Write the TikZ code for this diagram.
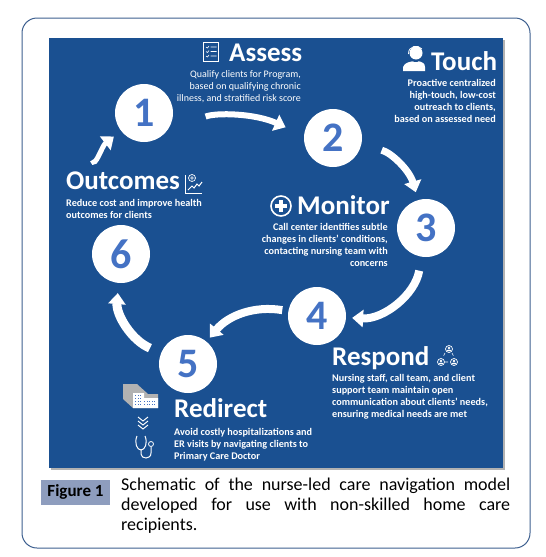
\documentclass[tikz,border=0pt]{standalone}
\usepackage{fontspec}
\setmainfont{Carlito}
\usetikzlibrary{arrows.meta}
\definecolor{panelblue}{HTML}{1A5091}
\definecolor{numblue}{HTML}{4472C4}
\definecolor{frameblue}{HTML}{3D5F8F}
\definecolor{figbox}{HTML}{8E9DBE}
\tikzset{
  numcircle/.style={circle,fill=white,minimum size=58pt,inner sep=0pt,text=numblue,font=\fontsize{42}{42}\selectfont\bfseries},
  flow/.style={draw=white,line width=#1,-{Triangle[width=17pt,length=11pt]}},
  heading/.style={anchor=base west,inner sep=0pt,text=white,font=\fontsize{27}{27}\selectfont\bfseries},
  bodytext/.style={inner sep=0pt,text=white,font=\fontsize{10.2}{12.1}\selectfont\bfseries},
  icon/.style={draw=white,line width=0.8pt},
}
\begin{document}
\begin{tikzpicture}[x=1pt,y=-1pt]
\useasboundingbox (0,0) rectangle (546,557);
\node[draw=frameblue,line width=1pt,rounded corners=15pt,minimum width=508pt,minimum height=530pt,inner sep=0pt](frame) at (276,283) {};
\fill[black!30] (50.5,39.5) rectangle (504.5,469.5);
\node[fill=panelblue,minimum width=454pt,minimum height=430pt,inner sep=0pt](panel) at (276,253) {};

\node[numcircle](n1) at (144,113) {1};
\node[numcircle](n2) at (333,138) {2};
\node[numcircle](n3) at (426,228) {3};
\node[numcircle](n4) at (317,316) {4};
\node[numcircle](n5) at (188,364) {5};
\node[numcircle](n6) at (121,254) {6};

\draw[flow=6pt,shorten <=43pt,shorten >=20pt] (n1.-42) to[bend left=23] (n2.175);
\draw[flow=7pt,shorten <=21pt,shorten >=8pt] (n2) to[bend left=30] (n3);
\draw[flow=8pt,shorten <=14pt,shorten >=6pt] (n3) to[bend left=42] (n4);
\draw[flow=8pt,shorten <=6pt,shorten >=5pt] (n4) to[bend right=30] (n5);
\draw[flow=9pt,shorten <=12pt,shorten >=10pt] (n5) to[bend left=36] (n6);
\draw[flow=5pt,shorten <=69pt,shorten >=9pt,out looseness=1.6,in looseness=0.65] (n6) to[out=107,in=218] (n1);

\node[heading](assess) at (229,61) {Assess};
\node[heading](touch) at (431,70) {Touch};
\node[heading](monitor) at (297,214) {Monitor};
\node[heading](outcomes) at (66,189) {Outcomes};
\node[heading](respond) at (332,365) {Respond};
\node[heading](redirect) at (174,417) {Redirect};

\node[bodytext,anchor=north east,align=right,font=\fontsize{10}{12}\selectfont](assessbody) at (301,70) {Qualify clients for Program,\\based on qualifying chronic\\illness, and stratified risk score};
\node[bodytext,anchor=north east,align=right](touchbody) at (496,79) {Proactive centralized\\high-touch, low-cost\\outreach to clients,\\based on assessed need};
\node[bodytext,anchor=north east,align=right](monitorbody) at (388,223) {Call center identifies subtle\\changes in clients’ conditions,\\contacting nursing team with\\concerns};
\node[bodytext,anchor=north west,align=left](outcomesbody) at (66,199) {Reduce cost and improve health\\outcomes for clients};
\node[bodytext,anchor=north west,align=left](respondbody) at (332,374) {Nursing staff, call team, and client\\support team maintain open\\communication about clients’ needs,\\ensuring medical needs are met};
\node[bodytext,anchor=north west,align=left](redirectbody) at (174,428) {Avoid costly hospitalizations and\\ER visits by navigating clients to\\Primary Care Doctor};

% checklist
\draw[icon] (203.5,42.5) rectangle (218.5,61.5);
\foreach \y in {47,51.5,56}
  \draw[white,line width=0.6pt] (206,\y) -- (207.5,\y+1) -- (209,\y-1) (210.5,\y) -- (216.5,\y);
% headset
\fill[white] (416,53) circle (6.5pt);
\fill[white] (403,71) -- (403,67) .. controls (405,62) and (410,62) .. (414,61) -- (418,61) .. controls (422,62) and (425,63) .. (425,67) -- (425,71) -- cycle;
\draw[panelblue,line width=0.8pt] (408,55) arc (190:340:8pt);
\draw[white,line width=0.8pt] (408.5,54) .. controls (408,46) and (418,44) .. (422,49);
% plus
\draw[white,line width=1.6pt] (281,206) circle (10pt);
\draw[white,line width=3.2pt] (275,206) -- (287,206) (281,200) -- (281,212);
% chart
\draw[icon] (185,175) -- (185,193) -- (202,193);
\draw[white,line width=1pt] (188,190) -- (192,186) -- (194,188) -- (197,184) -- (199,186) -- (202,182);
\draw[white,line width=0.7pt] (192,178) circle (3.5pt) (190,178) -- (194,178) (192,176) -- (192,180);
% team
\foreach \cx/\cy in {449/349,441/362,454/362}{
  \draw[white,line width=0.7pt] (\cx,\cy) circle (3.5pt);
  \fill[white] (\cx,\cy-1) circle (1.3pt) (\cx-2.2,\cy+2) rectangle (\cx+2.2,\cy+0.8);
}
\draw[white,line width=0.6pt,dashed] (445,353) -- (443,357) (452,353) -- (454,357) (445,362) -- (450,362);
% building
\fill[black!30] (123,384) -- (137,384) -- (148,394) -- (158,394) -- (158,408) -- (133,408) -- (123,399) -- cycle;
\fill[white] (133,393) -- (144,393) -- (144,398) -- (158,398) -- (158,408) -- (133,408) -- cycle;
\foreach \bx in {135,137.5,140}
  \foreach \by in {395,398,401,404}
    \fill[numblue] (\bx,\by) rectangle +(1.3,1.3);
\foreach \bx in {144,146.5,149,151.5,154}
  \foreach \by in {401,404}
    \fill[numblue] (\bx,\by) rectangle +(1.3,1.3);
% chevrons
\foreach \y in {417,421,425}
  \draw[white,line width=1pt] (138,\y) -- (143,\y+4) -- (148,\y);
% stethoscope
\draw[white,line width=1pt] (137,436) .. controls (134,443) and (137,450) .. (141,450) .. controls (145,450) and (148,443) .. (145,436);
\draw[white,line width=1pt] (141,450) -- (141,454) .. controls (141,459) and (151,460) .. (151,453) -- (151,447);
\draw[white,line width=0.8pt] (151,444) circle (2.5pt);

\node[fill=figbox,minimum width=69pt,minimum height=25pt,inner sep=0pt,font=\fontsize{17}{17}\selectfont\bfseries,text=black](figlabel) at (75.5,492) {Figure 1};
\node[anchor=north west,inner sep=0pt,text width=389pt,align=justify,font=\fontsize{18}{20}\selectfont](caption) at (121,478) {Schematic of the nurse-led care navigation model\linebreak developed for use with non-skilled home care\linebreak recipients.};
\end{tikzpicture}
\end{document}
